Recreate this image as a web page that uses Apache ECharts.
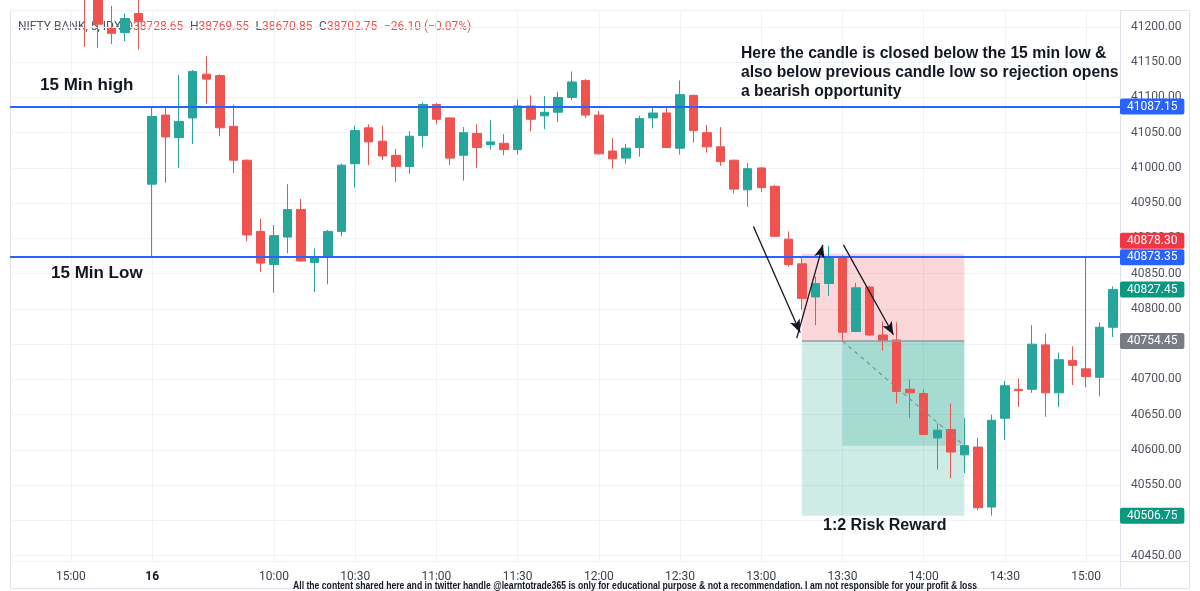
<!DOCTYPE html>
<html>
<head>
<meta charset="utf-8">
<script src="https://cdn.jsdelivr.net/npm/echarts@6/dist/echarts.min.js"></script>
<style>html,body{margin:0;padding:0;background:#fff}#c{width:1200px;height:591px}</style>
</head>
<body>
<div id="c"></div>
<script>
// ---- data (5-minute candles, index 0 = 09:15 on the 16th) ----
const candleStart = -5;
const openP  = [41260,41240,41198,41192,41219,
  40977,41075,41043,41071,41133,41131,41059,41011,40910,40863,40902,40941,40866,40874,40910,41006,41057,41038,41018,41002,
  41046,41090,41071,41018,41049,41033,41035,41026,41088,41074,41079,41100,41124,41075,41024,41014,41029,41071,41078,41028,
  41103,41050,41030,41011,40969,41000,40974,40899,40864,40817,40836,40874,40768,40831,40763,40756,40686,40680,40617,40629,
  40593,40604,40519,40645,40686,40686,40749,40681,40727,40715,40703,40774];
const closeP = [41240,41204,41191,41212,41208,
  41073,41044,41066,41137,41126,41057,41011,40905,40865,40904,40941,40868,40873,40910,41004,41053,41037,41017,41002,41045,
  41090,41069,41014,41050,41029,41037,41026,41088,41069,41079,41100,41122,41075,41020,41013,41028,41070,41078,41029,41104,
  41053,41030,41009,40970,40999,40972,40903,40863,40815,40836,40873,40767,40830,40763,40755,40683,40681,40622,40628,40597,
  40606,40518,40642,40691,40684,40750,40681,40728,40720,40704,40774,40827.45];
const lowP   = [41172,41170,41176,41180,41168,
  40873.35,40979,41000,41034,41091,41045,40993,40896,40853,40823,40879,40867,40824,40835,40903,40972,41004,41011,40980,40992,
  41029,41062,41004,40982,41000,41026,41018,41019,41052,41055,41065,41096,41071,41019,40999,41006,41016,41056,41028,41019,
  41036,41022,41003,40964,40945,40966,40902,40860,40799,40777,40818,40754.45,40767,40762,40741,40666,40645,40621,40572,40560,
  40567,40514,40506.75,40614,40661,40681,40647,40661,40692,40689,40676,40760];
const highP  = [41280,41260,41230,41219,41240,
  41087.15,41087,41132,41139,41159,41133,41090,41012,40928,40919,40977,40956,40886,40912,41006,41060,41062,41060,41027,41052,
  41093,41092,41072,41058,41062,41068,41048,41097,41103,41102,41108,41137,41126,41081,41042,41034,41074,41088,41087,41124,
  41104,41061,41058,41012,41007,41001,40976,40910,40874,40846,40889,40876,40837,40833,40782,40781,40700,40686,40638,40666,
  40645,40617,40650,40698,40701,40777,40765,40738,40747,40873,40781,40832];

const tickPos    = [-6, 0, 9, 15, 21, 27, 33, 39, 45, 51, 57, 63, 69];
const tickLabels = ['15:00','16','10:00','10:30','11:00','11:30','12:00','12:30','13:00','13:30','14:00','14:30','15:00'];

const fifteenHigh = 41087.15;
const fifteenLow  = 40873.35;
const stopPrice   = 40878.30;
const entryPrice  = 40754.45;
const targetPrice = 40506.75;
const lastPrice   = 40827.45;
const progressPrice = 40606;
const toolStart = 48, entryIdx = 51, toolEnd = 60;
const arrowLines = [
  [[44.42, 40916.9], [47.87, 40766.6]],
  [[47.62, 40758.6], [49.55, 40890.9]],
  [[51.07, 40890.9], [54.76, 40763.3]]
];

const candles = openP.map((o, k) => [candleStart + k, o, closeP[k], lowP[k], highP[k]]);

const UP = '#26a69a', DOWN = '#ef5350';

function priceLabel(bg, extra) {
  return Object.assign({
    show: true, position: 'end', distance: 0,
    formatter: p => p.value.toFixed(2),
    color: '#fff', backgroundColor: bg, padding: [2, 7, 2, 7],
    fontSize: 12, fontFamily: 'Roboto', lineHeight: 12, borderRadius: 2
  }, extra || {});
}

const disclaimer = 'All the content shared here and in twitter handle @learntotrade365 is only for educational purpose & not a recommendation. I am not responsible for your profit & loss';
const discFont = 'bold 10px "Liberation Sans", Arial, sans-serif';
const ctx = document.createElement('canvas').getContext('2d');
ctx.font = discFont;
const discScale = 684 / ctx.measureText(disclaimer).width;

const chart = echarts.init(document.getElementById('c'), null, {renderer: 'canvas'});
chart.setOption({
  animation: false,
  backgroundColor: '#ffffff',
  grid: {left: 10, right: 80, top: 10, bottom: 30},
  xAxis: {
    type: 'value', min: -10.5, max: 71.5,
    axisLine: {show: false},
    axisTick: {show: false, customValues: tickPos},
    axisLabel: {
      customValues: tickPos, margin: 10, color: '#3c3f4a', fontSize: 12, fontFamily: 'Roboto',
      formatter: v => { const t = tickLabels[tickPos.indexOf(v)]; return t === '16' ? '{b|16}' : (t || ''); },
      rich: {b: {fontWeight: 'bold', fontSize: 12, color: '#131722', fontFamily: 'Roboto'}}
    },
    splitLine: {show: true, lineStyle: {color: '#f0f2f6', width: 1}}
  },
  yAxis: {
    type: 'value', position: 'right', min: 40442.4, max: 41224.1,
    splitNumber: 15, minInterval: 50, maxInterval: 50, scale: true,
    axisLine: {show: false}, axisTick: {show: false},
    axisLabel: {formatter: v => v.toFixed(2), showMinLabel: false, showMaxLabel: false,
      margin: 11, color: '#50535e', fontSize: 12, fontFamily: 'Roboto'},
    splitLine: {show: true, lineStyle: {color: '#f0f2f6', width: 1}}
  },
  graphic: [
    {type: 'rect', shape: {x: 10.5, y: 10.5, width: 1179, height: 578}, style: {fill: 'none', stroke: '#e0e3eb', lineWidth: 1}, z: 0},
    {type: 'line', shape: {x1: 1120.5, y1: 10, x2: 1120.5, y2: 588}, style: {stroke: '#e0e3eb', lineWidth: 1}, z: 0},
    {type: 'line', shape: {x1: 10, y1: 561.5, x2: 1189, y2: 561.5}, style: {stroke: '#e0e3eb', lineWidth: 1}, z: 0},
    {type: 'text', x: 18, y: 27, z: 0, style: {
      text: '{t|NIFTY BANK, 5, IDX} {l|O}{v|38728.65}  {l|H}{v|38769.55}  {l|L}{v|38670.85}  {l|C}{v|38702.75}  {v|\u221226.10 (\u22120.07%)}',
      verticalAlign: 'middle',
      rich: {
        t: {fill: '#50535e', font: '12px Roboto'},
        l: {fill: '#50535e', font: '12px Roboto'},
        v: {fill: '#ef5350', font: '12px Roboto'}
      }
    }},
    {type: 'text', x: 40, y: 85, z: 10, style: {text: '15 Min high', font: 'bold 17px "Liberation Sans", Arial, sans-serif', fill: '#131722', verticalAlign: 'middle'}},
    {type: 'text', x: 51, y: 273, z: 10, style: {text: '15 Min Low', font: 'bold 17px "Liberation Sans", Arial, sans-serif', fill: '#131722', verticalAlign: 'middle'}},
    {type: 'text', x: 741, y: 44, z: 10, style: {
      text: 'Here the candle is closed below the 15 min low &\nalso below previous candle low so rejection opens\na bearish opportunity',
      font: 'bold 15.7px "Liberation Sans", Arial, sans-serif', lineHeight: 19, fill: '#131722', verticalAlign: 'top'}},
    {type: 'text', x: 823, y: 526, z: 10, style: {text: '1:2 Risk Reward', font: 'bold 16px "Liberation Sans", Arial, sans-serif', fill: '#131722', verticalAlign: 'middle'}},
    {type: 'text', x: 635, y: 586, z: 10, scaleX: discScale, originX: 0, originY: 0, style: {text: disclaimer, font: discFont, fill: '#131722', align: 'center', verticalAlign: 'middle'}}
  ],
  series: [{
    type: 'candlestick',
    data: candles,
    barWidth: 9,
    clip: true,
    itemStyle: {color: UP, color0: DOWN, borderColor: UP, borderColor0: DOWN, borderWidth: 1},
    markArea: {
      silent: true,
      data: [
        [{coord: [toolStart, stopPrice], itemStyle: {color: 'rgba(242,54,69,0.2)'}}, {coord: [toolEnd, entryPrice]}],
        [{coord: [toolStart, entryPrice], itemStyle: {color: 'rgba(8,153,129,0.2)'}}, {coord: [toolEnd, targetPrice]}],
        [{coord: [entryIdx, entryPrice], itemStyle: {color: 'rgba(8,153,129,0.2)'}}, {coord: [toolEnd, progressPrice]}]
      ]
    },
    markLine: {
      silent: true, symbol: 'none', animation: false,
      data: [
        {yAxis: fifteenHigh, lineStyle: {color: '#2962ff', width: 2, type: 'solid'}, label: priceLabel('#2962ff')},
        {yAxis: fifteenLow, lineStyle: {color: '#2962ff', width: 2, type: 'solid'}, label: priceLabel('#2962ff')},
        {yAxis: stopPrice, lineStyle: {color: 'rgba(0,0,0,0)', width: 0}, label: priceLabel('#f23645', {offset: [0, -13]})},
        {yAxis: lastPrice, lineStyle: {color: 'rgba(0,0,0,0)', width: 0}, label: priceLabel('#089981')},
        {yAxis: entryPrice, lineStyle: {color: 'rgba(0,0,0,0)', width: 0}, label: priceLabel('#787b86')},
        {yAxis: targetPrice, lineStyle: {color: 'rgba(0,0,0,0)', width: 0}, label: priceLabel('#089981')},
        [{coord: [toolStart, entryPrice], lineStyle: {color: '#9598a1', width: 1.5, type: 'solid'}, label: {show: false}}, {coord: [toolEnd, entryPrice]}],
        [{coord: [entryIdx, entryPrice], lineStyle: {color: '#8a8d96', width: 1.2, type: [4, 4]}, label: {show: false}}, {coord: [toolEnd, progressPrice]}]
      ].concat(arrowLines.map(a => [
        {coord: a[0], symbol: 'none', lineStyle: {color: '#131722', width: 1.3, type: 'solid'}, label: {show: false}},
        {coord: a[1], symbol: 'arrow', symbolSize: [8, 13]}
      ]))
    }
  }]
});
</script>
</body>
</html>
